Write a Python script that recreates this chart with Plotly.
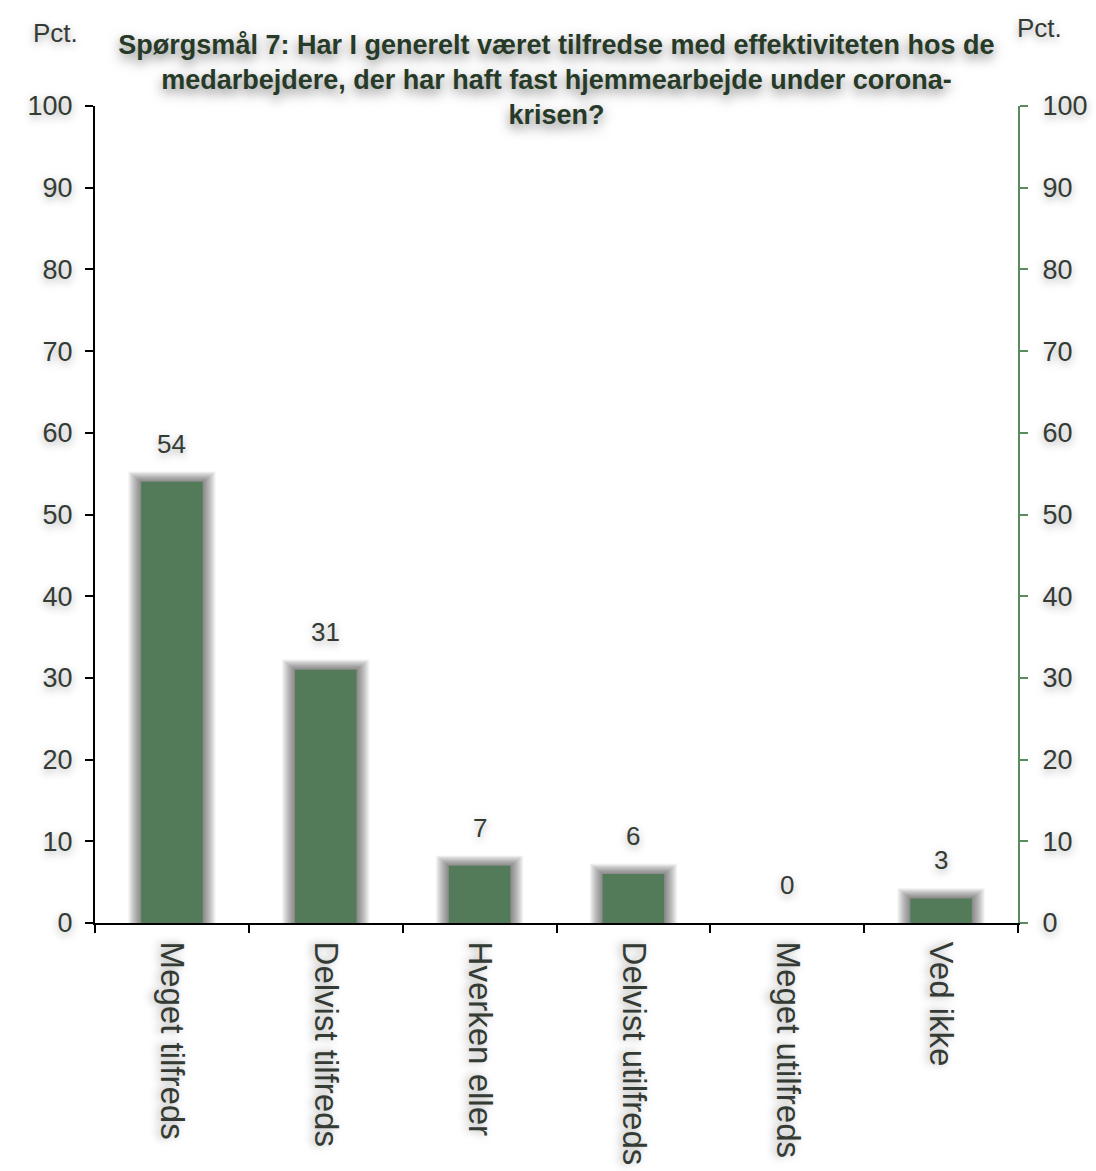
import plotly.graph_objects as go

# Survey answers (percent of respondents)
categories = ["Meget tilfreds", "Delvist tilfreds", "Hverken eller",
              "Delvist utilfreds", "Meget utilfreds", "Ved ikke"]
values = [54, 31, 7, 6, 0, 3]
y_ticks = [0, 10, 20, 30, 40, 50, 60, 70, 80, 90, 100]

title_lines = [
    "Spørgsmål 7: Har I generelt været tilfredse med effektiviteten hos de",
    "medarbejdere, der har haft fast hjemmearbejde under corona-",
    "krisen?",
]

BAR_GREEN = "#547b59"
AXIS_GREEN = "#5a8a60"
TEXT_DARK = "#343b34"
TITLE_DARK = "#263a27"
FONT = "Liberation Sans, Arial, sans-serif"
TEXT_GLOW = "0px 3px 8px rgba(0,0,0,0.35)"

BAR_WIDTH = 0.4
# pixel geometry of the plotting area, used to size the soft shadow rings
PLOT_W, PLOT_H = 923, 817
PX_X = len(categories) / PLOT_W   # category units per pixel
PX_Y = 100 / PLOT_H               # value units per pixel

fig = go.Figure()

# soft grey halo behind each bar: many thin translucent rings
for k in range(13, 0, -1):
    fig.add_trace(go.Bar(
        x=categories,
        y=[v + k * 0.8 * PX_Y if v > 0 else 0 for v in values],
        width=BAR_WIDTH + 2 * k * PX_X,
        marker=dict(color="rgba(0,0,0,0.042)", line=dict(width=0)),
        hoverinfo="skip", showlegend=False,
    ))

fig.add_trace(go.Bar(
    x=categories, y=values, width=BAR_WIDTH,
    marker=dict(color=BAR_GREEN, line=dict(width=0)),
    hoverinfo="x+y", showlegend=False,
))

# invisible companion trace so the right-hand axis is drawn
fig.add_trace(go.Scatter(
    x=categories, y=values, yaxis="y2", mode="markers",
    marker=dict(opacity=0), hoverinfo="skip", showlegend=False,
))

# value labels above each bar
for cat, val in zip(categories, values):
    fig.add_annotation(
        x=cat, y=val, yshift=38, text=str(val), showarrow=False,
        xanchor="center", yanchor="middle",
        font=dict(family=FONT, size=26, color=TEXT_DARK, shadow=TEXT_GLOW),
    )

# unit labels above both value axes
fig.add_annotation(xref="paper", yref="paper", x=-0.0423, y=1.0894,
                   text="Pct.", showarrow=False, xanchor="center", yanchor="middle",
                   font=dict(family=FONT, size=26, color=TEXT_DARK, shadow=TEXT_GLOW))
fig.add_annotation(xref="paper", yref="paper", x=1.0238, y=1.0955,
                   text="Pct.", showarrow=False, xanchor="center", yanchor="middle",
                   font=dict(family=FONT, size=26, color=TEXT_DARK, shadow=TEXT_GLOW))

fig.update_layout(
    width=1096, height=1171,
    margin=dict(l=95, r=78, t=106, b=248, autoexpand=False),
    paper_bgcolor="white", plot_bgcolor="white",
    barmode="overlay",
    title=dict(
        text="<br>".join(title_lines),
        x=0.5, xref="paper", xanchor="center",
        y=0.9543, yref="container", yanchor="middle",
        font=dict(family=FONT, size=27, color=TITLE_DARK, weight="bold",
                  shadow="0px 5px 12px rgba(0,0,0,0.5)"),
    ),
    xaxis=dict(
        showline=True, linecolor="black", linewidth=2,
        ticks="outside", tickson="boundaries", ticklen=8, tickwidth=1.5,
        tickcolor="black", tickangle=90, ticklabelstandoff=10,
        tickfont=dict(family=FONT, size=33, color=TEXT_DARK, shadow=TEXT_GLOW),
        showgrid=False, zeroline=False,
    ),
    yaxis=dict(
        range=[0, 100], tickvals=y_ticks, ticktext=[str(t) for t in y_ticks],
        showline=True, linecolor="black", linewidth=2,
        ticks="outside", ticklen=8, tickwidth=1.5, tickcolor="black",
        ticklabelstandoff=7,
        tickfont=dict(family=FONT, size=27, color=TEXT_DARK, shadow=TEXT_GLOW),
        showgrid=False, zeroline=False,
    ),
    yaxis2=dict(
        range=[0, 100], tickvals=y_ticks, ticktext=[str(t) for t in y_ticks],
        overlaying="y", side="right",
        showline=True, linecolor=AXIS_GREEN, linewidth=2,
        ticks="outside", ticklen=8, tickwidth=1.5, tickcolor=AXIS_GREEN,
        ticklabelstandoff=9,
        tickfont=dict(family=FONT, size=27, color=TEXT_DARK, shadow=TEXT_GLOW),
        showgrid=False, zeroline=False,
    ),
)

fig.write_html("out.html")
